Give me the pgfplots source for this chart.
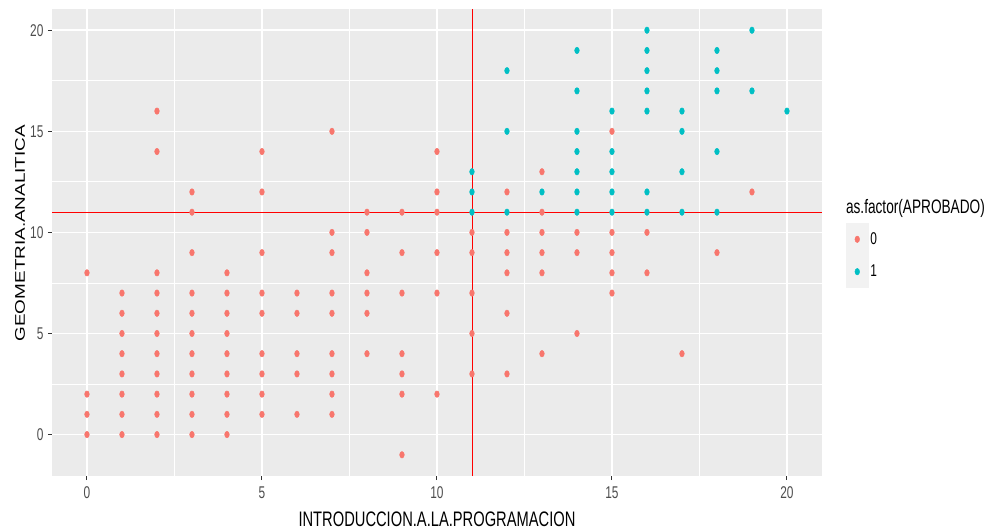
\documentclass[border=0pt]{standalone}
\usepackage{pgfplots}
\pgfplotsset{compat=1.18}
\usepackage{fontspec}
\setmainfont[FakeStretch=0.7]{Liberation Sans}
\newfontfamily\ylabfont[FakeStretch=1.35]{Liberation Sans}
\definecolor{ggred}{HTML}{F8766D}
\definecolor{ggteal}{HTML}{00BFC4}
\definecolor{panel}{HTML}{EBEBEB}
\definecolor{keybg}{HTML}{F2F2F2}
\definecolor{ticktxt}{HTML}{4D4D4D}
\definecolor{tickcol}{HTML}{333333}

\begin{document}
\begin{tikzpicture}
	\begin{axis}[
		scale only axis,
		width=770pt,
		height=467pt,
		xmin=-1, xmax=21,
		ymin=-2.05, ymax=21.05,
		axis background/.style={fill=panel},
		axis line style={draw=none},
		xtick={0,5,10,15,20},
		ytick={0,5,10,15,20},
		minor x tick num=1,
		minor y tick num=1,
		grid=both,
		major grid style={white, line width=1.6pt},
		minor grid style={white, line width=0.8pt},
		tick align=outside,
		tick pos=left,
		major tick length=4pt,
		minor tick length=0pt,
		tick style={tickcol, line width=1pt},
		/pgf/number format/assume math mode=true,
		ticklabel style={font=\fontsize{17}{18}\selectfont, text=ticktxt},
		xticklabel style={yshift=-3pt},
		yticklabel style={xshift=-1pt},
		xlabel={INTRODUCCION.A.LA.PROGRAMACION},
		xlabel style={font=\fontsize{21}{22}\selectfont, at={(rel axis cs:0.5,-0.092)}, anchor=center},
		ylabel={GEOMETRIA.ANALITICA},
		ylabel style={font=\ylabfont\fontsize{14}{15}\selectfont, at={(rel axis cs:-0.0416,0.52)}, anchor=center, rotate=0},
		clip=false,
		legend style={at={(rel axis cs:1.031,0.542)}, anchor=north west, draw=none, fill=none,
			inner sep=0pt, row sep=0pt, font=\fontsize{17}{18}\selectfont,
			nodes={inner sep=2pt}},
		legend cell align=left,
	]
	\addplot[ggred, only marks, mark=*, mark size=2.35pt, mark options={yscale=1.4, draw=ggred, fill=ggred},
		legend image code/.code={\fill[keybg] (0pt,-16pt) rectangle (22pt,16pt);
			\fill[ggred, yscale=1.4] (11pt,0pt) circle (2.35pt);}]
	coordinates {
		(0,8)(0,2)(0,1)(0,0)
		(1,7)(1,6)(1,5)(1,4)(1,3)(1,2)(1,1)(1,0)
		(2,16)(2,14)(2,8)(2,7)(2,6)(2,5)(2,4)(2,3)(2,2)(2,1)(2,0)
		(3,12)(3,11)(3,9)(3,7)(3,6)(3,5)(3,4)(3,3)(3,2)(3,1)(3,0)
		(4,8)(4,7)(4,6)(4,5)(4,4)(4,3)(4,2)(4,1)(4,0)
		(5,14)(5,12)(5,9)(5,7)(5,6)(5,4)(5,3)(5,2)(5,1)
		(6,7)(6,6)(6,4)(6,3)(6,1)
		(7,15)(7,10)(7,9)(7,7)(7,6)(7,4)(7,3)(7,2)(7,1)
		(8,11)(8,10)(8,8)(8,7)(8,6)(8,4)
		(9,11)(9,9)(9,7)(9,4)(9,3)(9,2)(9,-1)
		(10,14)(10,12)(10,11)(10,9)(10,7)(10,2)
		(11,10)(11,9)(11,7)(11,5)(11,3)
		(12,12)(12,10)(12,9)(12,8)(12,6)(12,3)
		(13,13)(13,11)(13,10)(13,9)(13,8)(13,4)
		(14,10)(14,9)(14,5)
		(15,15)(15,10)(15,9)(15,8)(15,7)
		(16,10)(16,8)
		(17,4)(18,9)(19,12)
	};
	\addlegendentry{0}
	\addplot[ggteal, only marks, mark=*, mark size=2.35pt, mark options={yscale=1.4, draw=ggteal, fill=ggteal},
		legend image code/.code={\fill[keybg] (0pt,-16pt) rectangle (22pt,16pt);
			\fill[ggteal, yscale=1.4] (11pt,0pt) circle (2.35pt);}]
	coordinates {
		(11,13)(11,12)(11,11)
		(12,18)(12,15)(12,11)
		(13,12)
		(14,19)(14,17)(14,15)(14,14)(14,13)(14,12)(14,11)
		(15,16)(15,14)(15,13)(15,12)(15,11)
		(16,20)(16,19)(16,18)(16,17)(16,16)(16,12)(16,11)
		(17,16)(17,15)(17,13)(17,11)
		(18,19)(18,18)(18,17)(18,14)(18,11)
		(19,20)(19,17)
		(20,16)
	};
	\addlegendentry{1}
	% cut lines at 11
	\addplot[red, line width=0.9pt, forget plot] coordinates {(11,-2.05) (11,21.05)};
	\addplot[red, line width=0.9pt, forget plot] coordinates {(-1,11) (21,11)};
	\node[anchor=west, inner sep=0pt, font=\fontsize{19.5}{20}\selectfont] at (rel axis cs:1.031,0.572) {as.factor(APROBADO)};
	\coordinate (bbll) at (rel axis cs:-0.0675,-0.1168);
	\coordinate (bbur) at (rel axis cs:1.2312,1.0193);
	\end{axis}
	\path (bbll) rectangle (bbur);
\end{tikzpicture}
\end{document}
